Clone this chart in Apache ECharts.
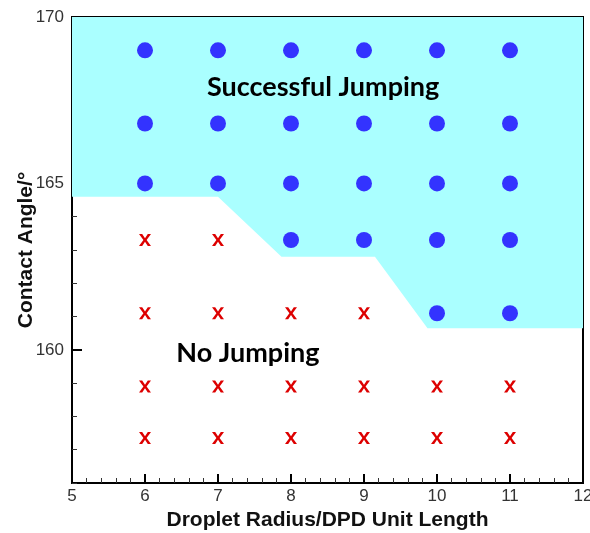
<!DOCTYPE html>
<html>
<head>
<meta charset="utf-8">
<script src="https://cdn.jsdelivr.net/npm/echarts@6/dist/echarts.min.js"></script>
<style>
  html, body { margin: 0; padding: 0; background: #fff; }
  #main { width: 590px; height: 533px; }
</style>
</head>
<body>
<div id="main"></div>
<script>
// droplet radius columns and contact angle rows
var radii = [6, 7, 8, 9, 10, 11];
var angles = [169.0, 166.8, 165.0, 163.3, 161.1, 158.9, 157.35];

// successful jumping runs [radius, angle]
var jumping = [
  [6, 169.0], [7, 169.0], [8, 169.0], [9, 169.0], [10, 169.0], [11, 169.0],
  [6, 166.8], [7, 166.8], [8, 166.8], [9, 166.8], [10, 166.8], [11, 166.8],
  [6, 165.0], [7, 165.0], [8, 165.0], [9, 165.0], [10, 165.0], [11, 165.0],
  [8, 163.3], [9, 163.3], [10, 163.3], [11, 163.3],
  [10, 161.1], [11, 161.1]
];

// no jumping runs
var noJumping = [
  [6, 163.3], [7, 163.3],
  [6, 161.1], [7, 161.1], [8, 161.1], [9, 161.1],
  [6, 158.9], [7, 158.9], [8, 158.9], [9, 158.9], [10, 158.9], [11, 158.9],
  [6, 157.35], [7, 157.35], [8, 157.35], [9, 157.35], [10, 157.35], [11, 157.35]
];

// lower boundary of the jumping region
var boundary = [
  [5, 164.6], [7, 164.6], [7.87, 162.8], [9.15, 162.8], [9.87, 160.65], [12, 160.65]
];

var yLabels = [160, 165, 170];

var regionLabels = [
  { value: [8.44, 167.9], name: 'Successful Jumping' },
  { value: [7.41, 159.9], name: 'No Jumping' }
];

var crossPath = 'path://M0,0 L3.2,0 L6,4.2 L8.8,0 L12,0 L7.6,6 L12,12 L8.8,12 L6,7.8 L3.2,12 L0,12 L4.4,6 Z';

var myChart = echarts.init(document.getElementById('main'));

var option = {
  backgroundColor: '#fff',
  animation: false,
  grid: {
    left: 72, right: 7, top: 17, bottom: 50,
    show: true,
    borderColor: '#000',
    borderWidth: 2,
    backgroundColor: '#fff',
    containLabel: false,
    outerBoundsMode: 'none'
  },
  xAxis: {
    type: 'value',
    min: 5, max: 12, interval: 1,
    name: 'Droplet Radius/DPD Unit Length',
    nameLocation: 'middle',
    nameGap: 27,
    nameMoveOverlap: false,
    nameTextStyle: { fontFamily: 'Liberation Sans', fontWeight: 'bold', fontSize: 21, color: '#111' },
    axisLine: { show: true, lineStyle: { color: '#000', width: 2 } },
    axisTick: { show: true, inside: true, length: 9, lineStyle: { color: '#000', width: 2 } },
    minorTick: { show: true, splitNumber: 5, length: 5, lineStyle: { color: '#333', width: 1 } },
    axisLabel: { fontFamily: 'Liberation Sans', fontSize: 17, color: '#333', margin: 5 },
    splitLine: { show: false }
  },
  yAxis: [{
    type: 'value',
    min: 156, max: 170, interval: 1,
    name: 'Contact Angle/\u00b0',
    nameLocation: 'middle',
    nameGap: 35,
    nameMoveOverlap: false,
    nameTextStyle: { fontFamily: 'Liberation Sans', fontWeight: 'bold', fontSize: 21, color: '#111' },
    axisLine: { show: true, lineStyle: { color: '#000', width: 2 } },
    axisTick: { show: true, inside: true, length: 5, lineStyle: { color: '#333', width: 1 } },
    axisLabel: {
      fontFamily: 'Liberation Sans', fontSize: 17, color: '#333', margin: 8,
      customValues: yLabels
    },
    splitLine: { show: false }
  }, {
    type: 'value',
    position: 'left',
    min: 156, max: 170,
    axisLine: { show: false },
    axisTick: { show: true, inside: true, length: 10, lineStyle: { color: '#000', width: 2 }, customValues: yLabels },
    axisLabel: { show: false },
    splitLine: { show: false }
  }],
  series: [
    {
      type: 'line',
      data: boundary,
      symbol: 'none',
      lineStyle: { width: 0 },
      areaStyle: { color: '#aaffff', opacity: 1, origin: 'end' },
      silent: true,
      z: 1
    },
    {
      type: 'scatter',
      data: jumping,
      symbol: 'circle',
      symbolSize: 16,
      itemStyle: { color: '#3333ff', opacity: 1 },
      z: 3
    },
    {
      type: 'scatter',
      data: noJumping,
      symbol: crossPath,
      symbolSize: [12, 12],
      itemStyle: { color: '#dd0000', opacity: 1 },
      z: 3
    },
    {
      type: 'scatter',
      data: regionLabels,
      symbolSize: 0,
      itemStyle: { opacity: 1 },
      label: {
        show: true,
        position: 'inside',
        formatter: '{b}',
        fontFamily: 'Lato',
        fontWeight: 'bold',
        fontSize: 27,
        color: '#000'
      },
      z: 4
    }
  ]
};

myChart.setOption(option);
</script>
</body>
</html>
